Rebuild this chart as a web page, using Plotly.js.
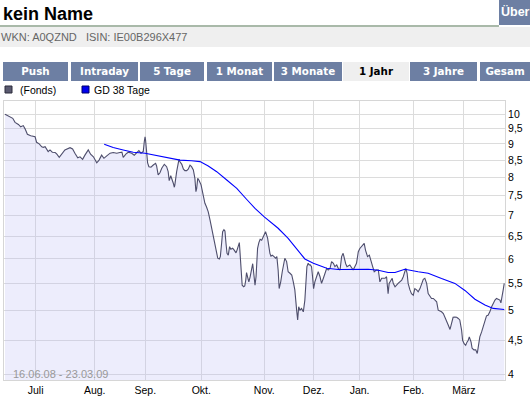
<!DOCTYPE html>
<html>
<head>
<meta charset="utf-8">
<script src="https://cdn.plot.ly/plotly-3.0.1.min.js"></script>
<style>
  html, body { margin:0; padding:0; background:#fff; width:530px; height:399px; overflow:hidden; }
  #chart { position:absolute; left:0; top:0; width:530px; height:399px; }
  .hdr { position:absolute; z-index:5; }
  #title { left:3px; top:4px; font:bold 18px "Liberation Sans", Arial, sans-serif; color:#000; }
  #topline { left:0; top:25px; width:499px; height:2px; background:#a9b9a9; }
  #ueber { left:499px; top:0; width:31px; height:25px; background:#6d7fa3; color:#fff; font:bold 12.5px "Liberation Sans", Arial, sans-serif; line-height:25px; padding-left:2px; box-sizing:border-box; white-space:nowrap; }
  #idbox { left:0; top:27px; width:530px; height:20px; background:#efefef; color:#666; font:11px "Liberation Sans", Arial, sans-serif; line-height:20px; padding-left:1px; white-space:pre; }
  .tab { position:absolute; z-index:5; top:62px; height:19px; background:#6d7fa3; color:#fff; font:bold 10.3px "DejaVu Sans", sans-serif; line-height:19px; text-align:center; white-space:nowrap; }
  .tab.active { background:#efefef; color:#000; }
</style>
</head>
<body>
<div id="chart"></div>
<div class="hdr" id="title">kein Name</div>
<div class="hdr" id="topline"></div>
<div class="hdr" id="ueber">Über</div>
<div class="hdr" id="idbox">WKN: A0QZND   ISIN: IE00B296X477</div>
<div id="tabs"></div>
<script>
// ---- data (trading-day index along x, fund price on log scale) ----
const tabLabels = ["Push","Intraday","5 Tage","1 Monat","3 Monate","1 Jahr","3 Jahre","Gesam"];
const tabLefts  = [3, 71, 140, 207, 274, 343, 410, 480];
const tabWidths = [65, 67, 64, 65, 68, 66, 67, 50];

const monthTickDays   = [11.9, 34.9, 54.6, 76.4, 100.9, 120.1, 138.0, 159.0, 178.6];
const monthTickLabels = ["Juli","Aug.","Sep.","Okt.","Nov.","Dez.","Jan.","Feb.","März"];

const priceTickVals   = [4, 4.5, 5, 5.5, 6, 6.5, 7, 7.5, 8, 8.5, 9, 9.5, 10];
const priceTickLabels = ["4","4,5","5","5,5","6","6,5","7","7,5","8","8,5","9","9,5","10"];

const fondsDay = [
  0,1.7,3.0,3.9,5.2,6.1,7.1,7.8,8.7,10.0,
  11.7,12.3,13.3,14.3,14.9,15.6,16.2,16.8,17.5,18.4,
  19.5,20.1,21.1,22.1,23.3,25.3,26.3,27.2,28.3,29.2,
  30.2,31.1,32.4,33.3,34.4,35.7,36.6,37.6,38.5,39.6,
  40.9,42.1,43.5,44.7,45.5,46.0,47.1,48.0,49.3,50.3,
  51.2,52.1,52.9,53.8,54.2,54.5,54.7,55.1,55.5,56.0,
  56.8,57.7,58.6,59.0,59.6,60.3,61.0,62.0,62.9,63.5,
  63.9,64.5,64.9,65.5,65.9,66.1,66.8,67.4,67.7,68.1,
  68.8,69.4,70.0,70.7,71.3,72.0,72.6,73.3,73.9,74.3,
  74.6,75.0,75.5,76.3,76.8,77.3,77.8,78.4,79.1,79.8,
  80.4,81.1,81.7,82.4,82.8,83.4,83.8,84.3,84.7,85.2,
  85.6,86.0,86.4,86.9,87.4,87.9,88.6,89.2,89.9,90.3,
  90.8,91.2,91.4,91.8,92.1,92.3,92.9,93.3,93.7,94.0,
  94.4,94.9,95.4,96.0,96.4,96.8,97.3,97.7,97.9,98.3,
  98.8,99.3,99.9,100.5,100.9,101.4,102.2,102.7,103.1,103.5,
  104.0,104.5,105.3,105.8,106.3,106.7,107.3,107.9,108.6,108.9,
  109.6,110.2,110.9,111.6,112.2,112.8,113.5,113.9,114.3,114.8,
  115.4,116.1,116.7,117.1,117.5,118.0,118.4,118.8,119.3,119.7,
  120.1,120.6,121.3,121.9,122.6,123.2,123.9,124.5,125.2,125.8,
  126.5,127.1,127.8,128.4,129.1,129.7,130.4,131.0,131.6,132.6,
  133.1,134.2,135.5,136.8,137.5,138.1,138.8,139.4,139.8,140.3,
  141.1,141.8,142.4,143.1,143.7,144.5,145.3,145.9,146.6,147.9,
  148.5,149.1,149.5,150.2,150.7,151.1,151.8,153.0,154.4,155.0,
  155.6,156.0,156.5,156.9,157.6,158.2,158.9,159.5,160.2,160.8,
  161.5,162.1,162.8,163.4,164.1,164.7,165.4,166.0,166.7,167.3,
  168.0,168.6,169.3,169.9,170.6,171.2,171.9,172.5,173.2,173.8,
  174.4,175.1,175.8,176.4,177.0,177.7,178.1,178.7,179.3,179.8,
  180.3,180.7,181.4,181.8,182.5,183.2,183.8,184.2,184.8,185.5,
  186.1,186.8,187.4,188.0,188.7,189.4,190.0,190.7,191.3,191.9,
  192.6,193.0,193.5,193.9,194.3
];
const fondsPrice = [
  9.99,9.91,9.85,9.71,9.64,9.56,9.60,9.49,9.31,9.26,
  9.23,9.05,9.00,8.91,8.89,8.91,8.83,8.76,8.81,8.74,
  8.73,8.69,8.585,8.68,8.81,8.88,8.84,8.71,8.57,8.60,
  8.525,8.65,8.81,8.68,8.60,8.42,8.50,8.65,8.555,8.63,
  8.71,8.73,8.71,8.73,8.74,8.585,8.69,8.74,8.71,8.65,
  8.73,8.79,8.71,8.76,9.07,9.23,9.125,8.71,8.42,8.305,
  8.29,8.355,8.405,8.325,8.07,8.13,8.26,8.375,8.305,8.16,
  7.905,8.045,7.925,7.835,7.725,7.79,8.16,8.45,8.525,8.45,
  8.375,8.24,8.19,8.19,8.23,8.35,8.305,8.21,7.97,7.605,
  7.695,7.97,7.92,7.79,7.605,7.385,7.30,7.21,7.085,6.88,
  6.68,6.49,6.305,6.085,6.015,6.00,6.05,6.34,6.605,6.65,
  6.62,6.34,6.12,6.08,6.265,6.21,6.23,6.19,6.13,6.19,
  6.305,6.355,6.19,5.87,5.635,5.47,5.44,5.455,5.57,5.72,
  5.635,5.535,5.635,5.77,5.90,5.705,5.47,5.635,5.84,6.23,
  6.355,6.43,6.41,6.49,6.565,6.605,6.455,6.24,6.12,6.06,
  6.08,6.06,6.015,6.05,5.77,5.405,5.535,5.735,5.98,6.015,
  5.945,5.735,5.705,5.67,5.535,5.38,5.01,4.84,5.07,5.01,
  5.04,4.98,5.19,5.535,5.84,5.91,5.875,5.875,5.84,5.635,
  5.405,5.535,5.635,5.735,5.635,5.505,5.605,5.705,5.805,5.77,
  5.805,5.945,5.91,5.84,5.875,5.805,5.77,6.05,6.12,5.90,
  5.84,5.875,5.77,5.91,6.155,6.225,6.265,6.30,6.34,6.19,
  6.05,6.08,5.945,5.84,5.735,5.77,5.77,5.535,5.605,5.605,
  5.635,5.31,5.505,5.57,5.605,5.505,5.44,5.505,5.57,5.635,
  5.77,5.805,5.705,5.505,5.38,5.31,5.28,5.405,5.38,5.345,
  5.405,5.505,5.585,5.605,5.505,5.31,5.25,5.22,5.22,5.19,
  5.16,5.01,5.00,4.98,4.95,4.89,4.84,4.755,4.68,4.78,
  4.885,4.89,4.885,4.865,4.84,4.67,4.505,4.45,4.425,4.475,
  4.505,4.56,4.475,4.38,4.355,4.355,4.30,4.40,4.56,4.64,
  4.72,4.84,4.91,4.92,4.98,5.07,5.13,5.19,5.22,5.205,
  5.19,5.14,5.25,5.38,5.505
];

const gd38Day = [38.6,42.1,46.0,49.9,54.5,59.0,64.2,68.1,72.6,75.9,79.1,82.4,86.3,90.2,94.0,97.3,100.9,102.5,106.3,110.2,113.5,116.7,120.0,123.2,125.2,129.7,136.2,141.4,145.3,149.1,151.8,155.6,160.8,164.7,169.9,175.1,179.0,182.9,186.8,190.0,194.3];
const gd38Price = [8.99,8.885,8.81,8.74,8.71,8.635,8.555,8.50,8.48,8.455,8.325,8.16,7.925,7.695,7.405,7.17,6.96,6.88,6.685,6.45,6.23,6.00,5.91,5.84,5.805,5.78,5.785,5.785,5.765,5.72,5.72,5.785,5.735,5.705,5.60,5.505,5.37,5.205,5.10,5.04,5.02];

const periodText = "16.06.08 - 23.03.09";
const legendFonds = "(Fonds)";
const legendGD = "GD 38 Tage";

// ---- tabs ----
const tabsEl = document.getElementById('tabs');
tabLabels.forEach((t, i) => {
  const d = document.createElement('div');
  d.className = 'tab' + (t === "1 Jahr" ? ' active' : '');
  d.style.left = tabLefts[i] + 'px';
  d.style.width = tabWidths[i] + 'px';
  d.textContent = t;
  tabsEl.appendChild(d);
});

// ---- chart ----
const FONT = "Liberation Sans, Arial, sans-serif";
const plotL = 4, plotR = 505, plotT = 101, plotB = 380;
const pw = plotR - plotL, ph = plotB - plotT;
const px = v => (v - plotL) / pw;
const py = v => (plotB - v) / ph;

const traces = [
  {
    x: fondsDay, y: fondsPrice, type: 'scatter', mode: 'lines',
    line: { color: '#4e4e6c', width: 1.1 },
    fill: 'tozeroy', fillcolor: 'rgba(190,190,245,0.27)',
    showlegend: false, hoverinfo: 'skip'
  },
  {
    x: gd38Day, y: gd38Price, type: 'scatter', mode: 'lines',
    line: { color: '#0000ff', width: 1.1 },
    showlegend: false, hoverinfo: 'skip'
  }
];

const layout = {
  width: 530, height: 399,
  margin: { l: plotL, r: 530 - plotR, t: plotT, b: 399 - plotB, pad: 0 },
  paper_bgcolor: 'rgba(0,0,0,0)', plot_bgcolor: '#ffffff',
  showlegend: false, hovermode: false,
  font: { family: FONT, size: 10.5, color: '#000' },
  xaxis: {
    range: [-0.4, 194.6], tickmode: 'array', tickvals: monthTickDays, ticktext: monthTickLabels,
    showgrid: true, gridcolor: '#dcdcdc', gridwidth: 1, zeroline: false,
    showline: true, mirror: true, linecolor: '#d6d6d6', linewidth: 1,
    ticks: '', tickfont: { family: FONT, size: 10.5, color: '#000' }
  },
  yaxis: {
    type: 'log', range: [0.59288, 1.01990], side: 'right',
    tickmode: 'array', tickvals: priceTickVals, ticktext: priceTickLabels,
    showgrid: true, gridcolor: '#dcdcdc', gridwidth: 1, zeroline: false,
    showline: true, mirror: true, linecolor: '#d6d6d6', linewidth: 1,
    ticks: '', tickfont: { family: FONT, size: 10.5, color: '#000' }
  },
  shapes: [
    { type: 'rect', xref: 'paper', yref: 'paper', x0: px(5), x1: px(12), y0: py(93), y1: py(86),
      fillcolor: '#5a5a70', line: { color: '#2a2a3a', width: 1 } },
    { type: 'rect', xref: 'paper', yref: 'paper', x0: px(82), x1: px(89), y0: py(93), y1: py(86),
      fillcolor: '#0000ee', line: { color: '#00006a', width: 1 } }
  ],
  annotations: [
    { text: legendFonds, xref: 'paper', yref: 'paper', x: px(18), y: py(89.5), xanchor: 'left', yanchor: 'middle',
      showarrow: false, font: { family: FONT, size: 10.5, color: '#000' } },
    { text: legendGD, xref: 'paper', yref: 'paper', x: px(92), y: py(89.5), xanchor: 'left', yanchor: 'middle',
      showarrow: false, font: { family: FONT, size: 10.5, color: '#000' } },
    { text: periodText, xref: 'paper', yref: 'paper', x: px(11), y: py(373.5), xanchor: 'left', yanchor: 'middle',
      showarrow: false, font: { family: FONT, size: 11, color: '#999999' } }
  ]
};

Plotly.newPlot('chart', traces, layout, { staticPlot: true, displayModeBar: false });
</script>
</body>
</html>
